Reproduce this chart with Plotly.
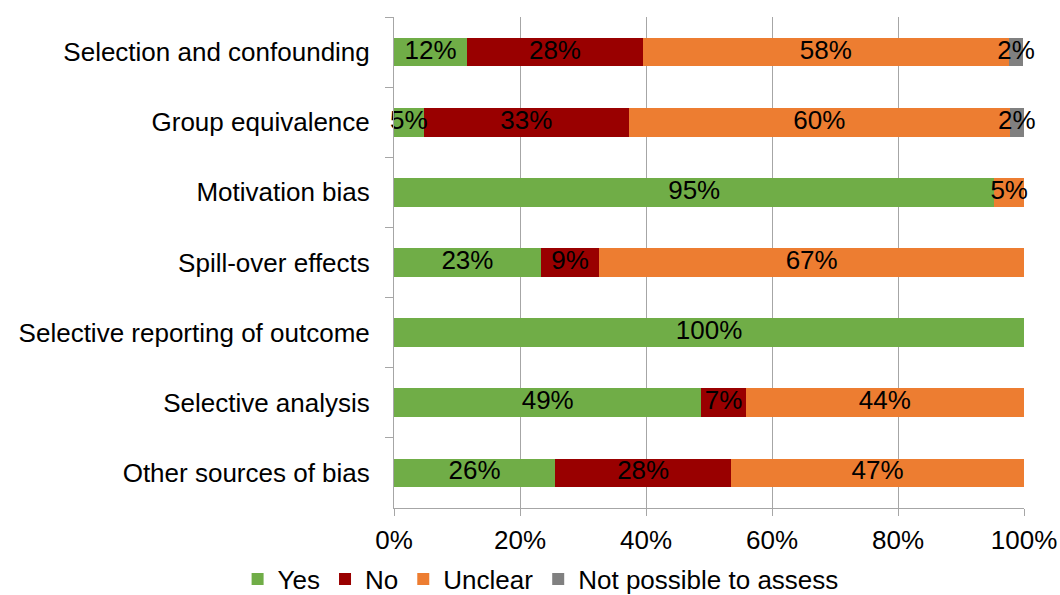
import plotly.graph_objects as go

categories = [
    "Selection and confounding",
    "Group equivalence",
    "Motivation bias",
    "Spill-over effects",
    "Selective reporting of outcome",
    "Selective analysis",
    "Other sources of bias",
]
yes_vals = [11.6, 4.7, 95.3, 23.3, 100.0, 48.8, 25.6]
no_vals = [27.9, 32.6, 0.0, 9.3, 0.0, 7.0, 27.9]
unclear_vals = [58.1, 60.4, 4.7, 67.4, 0.0, 44.2, 46.5]
npa_vals = [2.3, 2.3, 0.0, 0.0, 0.0, 0.0, 0.0]
x_ticks = [0, 20, 40, 60, 80, 100]
x_tick_labels = ["0%", "20%", "40%", "60%", "80%", "100%"]

series = [
    ("Yes", yes_vals, "#70AD47"),
    ("No", no_vals, "#990000"),
    ("Unclear", unclear_vals, "#ED7D31"),
    ("Not possible to assess", npa_vals, "#808080"),
]

FONT = "Liberation Sans, Arial, sans-serif"
FS = 26

fig = go.Figure()
for name, vals, color in series:
    fig.add_trace(go.Bar(
        y=categories,
        x=vals,
        name=name,
        orientation="h",
        marker=dict(color=color, line=dict(width=0)),
        width=0.41,
        hoverinfo="x+y+name",
    ))

# value labels centred on each segment
lab_x, lab_y, lab_t = [], [], []
base = [0.0] * len(categories)
for name, vals, color in series:
    for i, v in enumerate(vals):
        if v > 0:
            lab_x.append(base[i] + v / 2)
            lab_y.append(categories[i])
            lab_t.append(f"{int(v + 0.5)}%")
        base[i] += v
fig.add_trace(go.Scatter(
    x=lab_x, y=lab_y, text=lab_t, mode="text",
    textposition="middle center",
    textfont=dict(family=FONT, size=FS, color="black"),
    showlegend=False, hoverinfo="skip", cliponaxis=False,
))

fig.update_layout(
    barmode="stack",
    width=1060,
    height=595,
    margin=dict(l=394, r=36, t=17, b=87, autoexpand=False),
    paper_bgcolor="white",
    plot_bgcolor="white",
    font=dict(family=FONT, size=FS, color="black"),
    showlegend=True,
    legend=dict(
        orientation="h",
        x=0.510, xref="container", xanchor="center",
        y=-0.1446, yanchor="middle",
        font=dict(size=FS),
        itemwidth=30,
        traceorder="normal",
    ),
    xaxis=dict(
        range=[0, 100],
        tickvals=x_ticks,
        ticktext=x_tick_labels,
        showgrid=True,
        gridcolor="#A6A6A6",
        gridwidth=1,
        showline=True,
        linecolor="#A6A6A6",
        linewidth=1,
        ticks="outside",
        ticklen=7,
        tickcolor="#A6A6A6",
        zeroline=False,
        tickfont=dict(size=FS),
        ticklabelstandoff=2,
    ),
    yaxis=dict(
        autorange="reversed",
        showline=True,
        linecolor="#A6A6A6",
        linewidth=1,
        ticks="outside",
        tickson="boundaries",
        ticklen=8,
        tickcolor="#A6A6A6",
        showgrid=False,
        tickfont=dict(size=FS),
        ticklabelstandoff=18,
    ),
)

fig.write_html(
    "out.html",
    config={"displayModeBar": False},
    post_script="document.body.style.margin='0';document.body.style.overflow='hidden';",
)
